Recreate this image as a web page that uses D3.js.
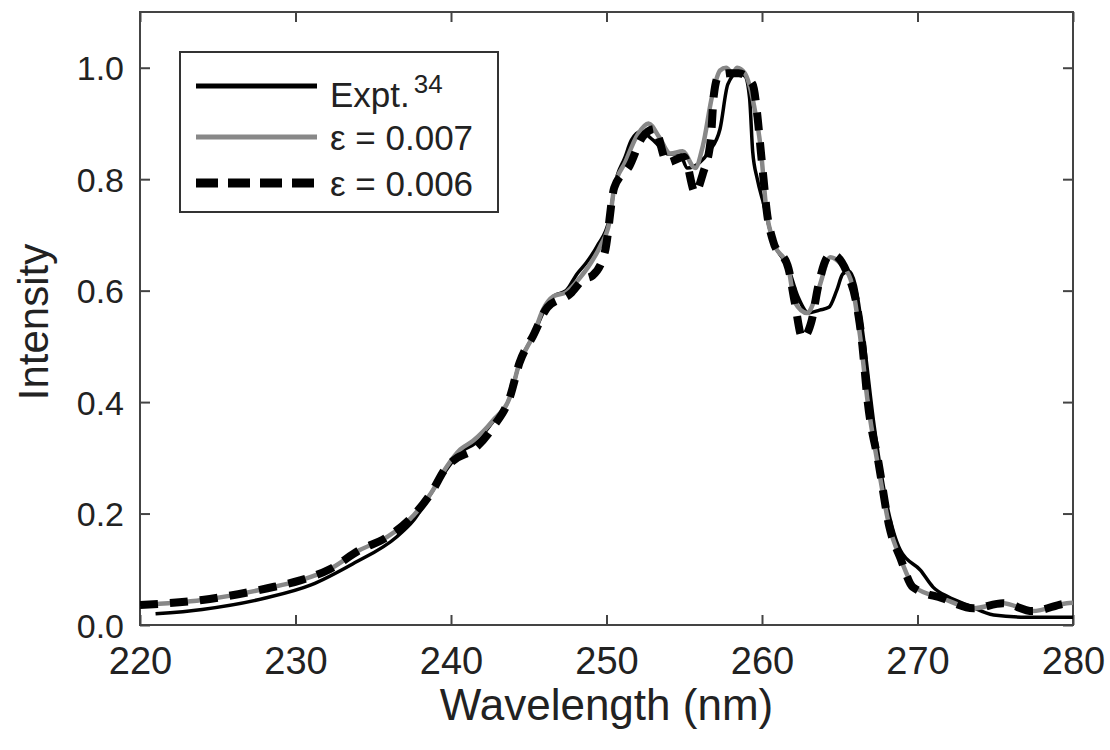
<!DOCTYPE html>
<html lang="en">
<head>
    <meta charset="UTF-8">
    <script src="https://d3js.org/d3.v7.min.js"></script>
    <title>Intensity vs wavelength</title>
    <style>
        body {
            margin: 0;
            background: #fff;
            font-family: "Liberation Sans", Arial, Helvetica, sans-serif;
        }
        .tick text {
            fill: #222;
        }
    </style>
</head>
<body>
<script>
    // Expt. (black solid)
    const exptWl = [221, 224, 228, 231, 233.7, 236.5, 237.6, 238.8, 240, 240.6, 241.5, 242.7, 243.8, 244.4, 245.3, 246, 246.6, 247.4, 248.1, 248.7, 249.4, 250.2, 250.5, 251.2, 251.6, 252.2, 253, 254, 254.7, 255.2, 256, 256.6, 257.3, 257.8, 258.4, 258.9, 259.2, 259.4, 259.7, 260.1, 260.7, 261.7, 262.3, 263, 263.7, 264.3, 264.8, 265.2, 265.6, 266, 266.5, 267.2, 268, 268.9, 270.2, 271, 272, 273.2, 274.9, 277, 280];
    const exptI = [0.02, 0.028, 0.048, 0.072, 0.11, 0.158, 0.188, 0.24, 0.29, 0.31, 0.325, 0.365, 0.41, 0.47, 0.52, 0.565, 0.59, 0.60, 0.63, 0.65, 0.68, 0.73, 0.785, 0.84, 0.87, 0.885, 0.87, 0.845, 0.846, 0.82, 0.83, 0.85, 0.89, 0.97, 0.99, 0.985, 0.946, 0.85, 0.80, 0.756, 0.69, 0.64, 0.59, 0.56, 0.565, 0.57, 0.60, 0.63, 0.635, 0.61, 0.52, 0.36, 0.22, 0.134, 0.098, 0.068, 0.05, 0.036, 0.018, 0.014, 0.014];

    // eps = 0.007 (gray solid)
    const e7Wl = [220, 224, 228.2, 230.3, 232.2, 234.1, 235.9, 237.6, 238.7, 239.7, 240.6, 241.4, 242.7, 243.8, 244.4, 245.3, 245.9, 246.6, 247.4, 248.2, 249, 249.6, 250.2, 250.5, 251.2, 252, 252.7, 253.4, 254.1, 254.9, 255.7, 256.2, 256.8, 257.3, 257.7, 258.1, 258.4, 258.9, 259.5, 259.9, 260.3, 260.7, 261.7, 262.1, 262.9, 263.6, 264.4, 265, 265.7, 266.3, 266.8, 267.5, 268.2, 268.9, 269.8, 271.6, 273.6, 275.5, 277.4, 279.6, 280];
    const e7I = [0.036, 0.045, 0.066, 0.08, 0.10, 0.134, 0.158, 0.197, 0.236, 0.283, 0.315, 0.33, 0.367, 0.41, 0.47, 0.52, 0.565, 0.59, 0.597, 0.62, 0.65, 0.68, 0.725, 0.785, 0.83, 0.88, 0.90, 0.875, 0.846, 0.85, 0.82, 0.86, 0.95, 0.995, 1.0, 0.99, 1.0, 0.99, 0.93, 0.86, 0.74, 0.69, 0.64, 0.58, 0.56, 0.60, 0.66, 0.65, 0.62, 0.52, 0.40, 0.28, 0.176, 0.12, 0.068, 0.048, 0.03, 0.039, 0.025, 0.039, 0.04];

    // eps = 0.006 (black dashed)
    const e6Wl = [220, 224, 228.2, 230.3, 232.2, 234.1, 235.9, 237.6, 238.7, 239.7, 240.4, 241.4, 242.7, 243.8, 244.4, 245.3, 246.2, 247.7, 248.5, 249.1, 249.9, 250.5, 251.5, 252.3, 253.1, 253.9, 255, 255.7, 256.2, 256.7, 256.9, 257.2, 257.8, 258.5, 259.4, 259.7, 259.9, 260.1, 260.3, 260.7, 261.7, 262.1, 262.6, 263.2, 263.6, 264.2, 264.5, 265.5, 266.1, 266.4, 266.8, 267.5, 268.2, 268.9, 269.7, 271.6, 273.6, 275.5, 277.4, 279.6, 280];
    const e6I = [0.036, 0.045, 0.066, 0.08, 0.10, 0.134, 0.158, 0.197, 0.236, 0.283, 0.30, 0.314, 0.355, 0.41, 0.47, 0.52, 0.57, 0.595, 0.62, 0.627, 0.67, 0.785, 0.825, 0.875, 0.89, 0.83, 0.84, 0.776, 0.81, 0.87, 0.95, 0.985, 0.99, 0.99, 0.97, 0.915, 0.857, 0.80, 0.744, 0.69, 0.64, 0.58, 0.515, 0.547, 0.606, 0.66, 0.665, 0.63, 0.573, 0.516, 0.40, 0.29, 0.175, 0.12, 0.068, 0.048, 0.03, 0.039, 0.025, 0.039, 0.04];

    const xTicks = [220, 230, 240, 250, 260, 270, 280];
    const yTicks = [0, 0.2, 0.4, 0.6, 0.8, 1.0];
    const seriesNames = ['Expt.', 'ε = 0.007', 'ε = 0.006'];

    const margin = {top: 12, right: 37, bottom: 125, left: 140};
    const W = 1110, H = 750;
    const width = W - margin.left - margin.right;
    const height = H - margin.top - margin.bottom;

    const svg = d3.select('body').append('svg')
        .attr('width', W)
        .attr('height', H);

    const g = svg.append('g')
        .attr('transform', `translate(${margin.left},${margin.top})`);

    const x = d3.scaleLinear().domain([220, 280]).range([0, width]);
    const y = d3.scaleLinear().domain([0, 1.1]).range([height, 0]);

    // axes, ticks pointing inward
    const frameColor = '#444';
    const xAxis = d3.axisBottom(x).tickValues(xTicks).tickSize(-10).tickPadding(22).tickFormat(d3.format('d'));
    const yAxis = d3.axisLeft(y).tickValues(yTicks).tickSize(-10).tickPadding(16).tickFormat(d3.format('.1f'));

    const gx = g.append('g').attr('transform', `translate(0,${height})`).call(xAxis);
    const gy = g.append('g').call(yAxis);
    const gxTop = g.append('g').call(d3.axisTop(x).tickValues(xTicks).tickSize(-10).tickFormat(''));
    const gyRight = g.append('g').attr('transform', `translate(${width},0)`)
        .call(d3.axisRight(y).tickValues(yTicks).tickSize(-10).tickFormat(''));

    [gx, gy, gxTop, gyRight].forEach(a => {
        a.select('.domain').remove();
        a.selectAll('.tick line').attr('stroke', frameColor).attr('stroke-width', 2);
    });
    gx.selectAll('.tick text').style('font-size', '38px');
    gy.selectAll('.tick text').style('font-size', '34px').attr('dy', '0.36em');

    g.append('rect')
        .attr('width', width)
        .attr('height', height)
        .attr('fill', 'none')
        .attr('stroke', frameColor)
        .attr('stroke-width', 2);

    // axis titles
    svg.append('text')
        .attr('x', margin.left + width / 2)
        .attr('y', 720)
        .attr('text-anchor', 'middle')
        .style('font-size', '44px')
        .attr('fill', '#222')
        .text('Wavelength (nm)');

    svg.append('text')
        .attr('transform', `translate(48,322) rotate(-90)`)
        .attr('text-anchor', 'middle')
        .style('font-size', '42px')
        .attr('fill', '#222')
        .text('Intensity');

    // curves
    const line = d3.line()
        .x(d => x(d[0]))
        .y(d => y(d[1]))
        .curve(d3.curveMonotoneX);

    const zip = (a, b) => a.map((v, i) => [v, b[i]]);

    const styles = [
        {data: zip(exptWl, exptI), stroke: '#000', width: 3.5, dash: null},
        {data: zip(e7Wl, e7I), stroke: '#888', width: 4.5, dash: null},
        {data: zip(e6Wl, e6I), stroke: '#000', width: 8, dash: '18,12'}
    ];

    svg.append('clipPath').attr('id', 'clip')
        .append('rect').attr('width', width).attr('height', height);

    const plot = g.append('g').attr('clip-path', 'url(#clip)');
    plot.selectAll('path.series')
        .data(styles)
        .join('path')
        .attr('class', 'series')
        .attr('d', d => line(d.data))
        .attr('fill', 'none')
        .attr('stroke', d => d.stroke)
        .attr('stroke-width', d => d.width)
        .attr('stroke-dasharray', d => d.dash)
        .attr('stroke-linejoin', 'round');

    // legend
    const legend = svg.append('g').attr('transform', 'translate(180,52)');
    legend.append('rect')
        .attr('width', 318)
        .attr('height', 160)
        .attr('fill', '#fff')
        .attr('stroke', '#333')
        .attr('stroke-width', 2);

    const rowY = [34, 85, 131];
    const legendStyles = [
        {stroke: '#000', width: 5, dash: null},
        {stroke: '#888', width: 5, dash: null},
        {stroke: '#000', width: 9, dash: '22,10'}
    ];
    const rows = legend.selectAll('g.row')
        .data(seriesNames)
        .join('g')
        .attr('class', 'row')
        .attr('transform', (d, i) => `translate(0,${rowY[i]})`);

    rows.append('line')
        .attr('x1', 16).attr('x2', 137)
        .attr('stroke', (d, i) => legendStyles[i].stroke)
        .attr('stroke-width', (d, i) => legendStyles[i].width)
        .attr('stroke-dasharray', (d, i) => legendStyles[i].dash);

    const labels = rows.append('text')
        .attr('x', 150)
        .attr('y', (d, i) => i === 0 ? 21 : 13)
        .style('font-size', '35px')
        .attr('fill', '#222')
        .text(d => d);

    labels.filter((d, i) => i === 0)
        .append('tspan')
        .attr('dy', '-0.55em')
        .attr('dx', '4')
        .style('font-size', '26px')
        .text('34');
</script>
</body>
</html>
